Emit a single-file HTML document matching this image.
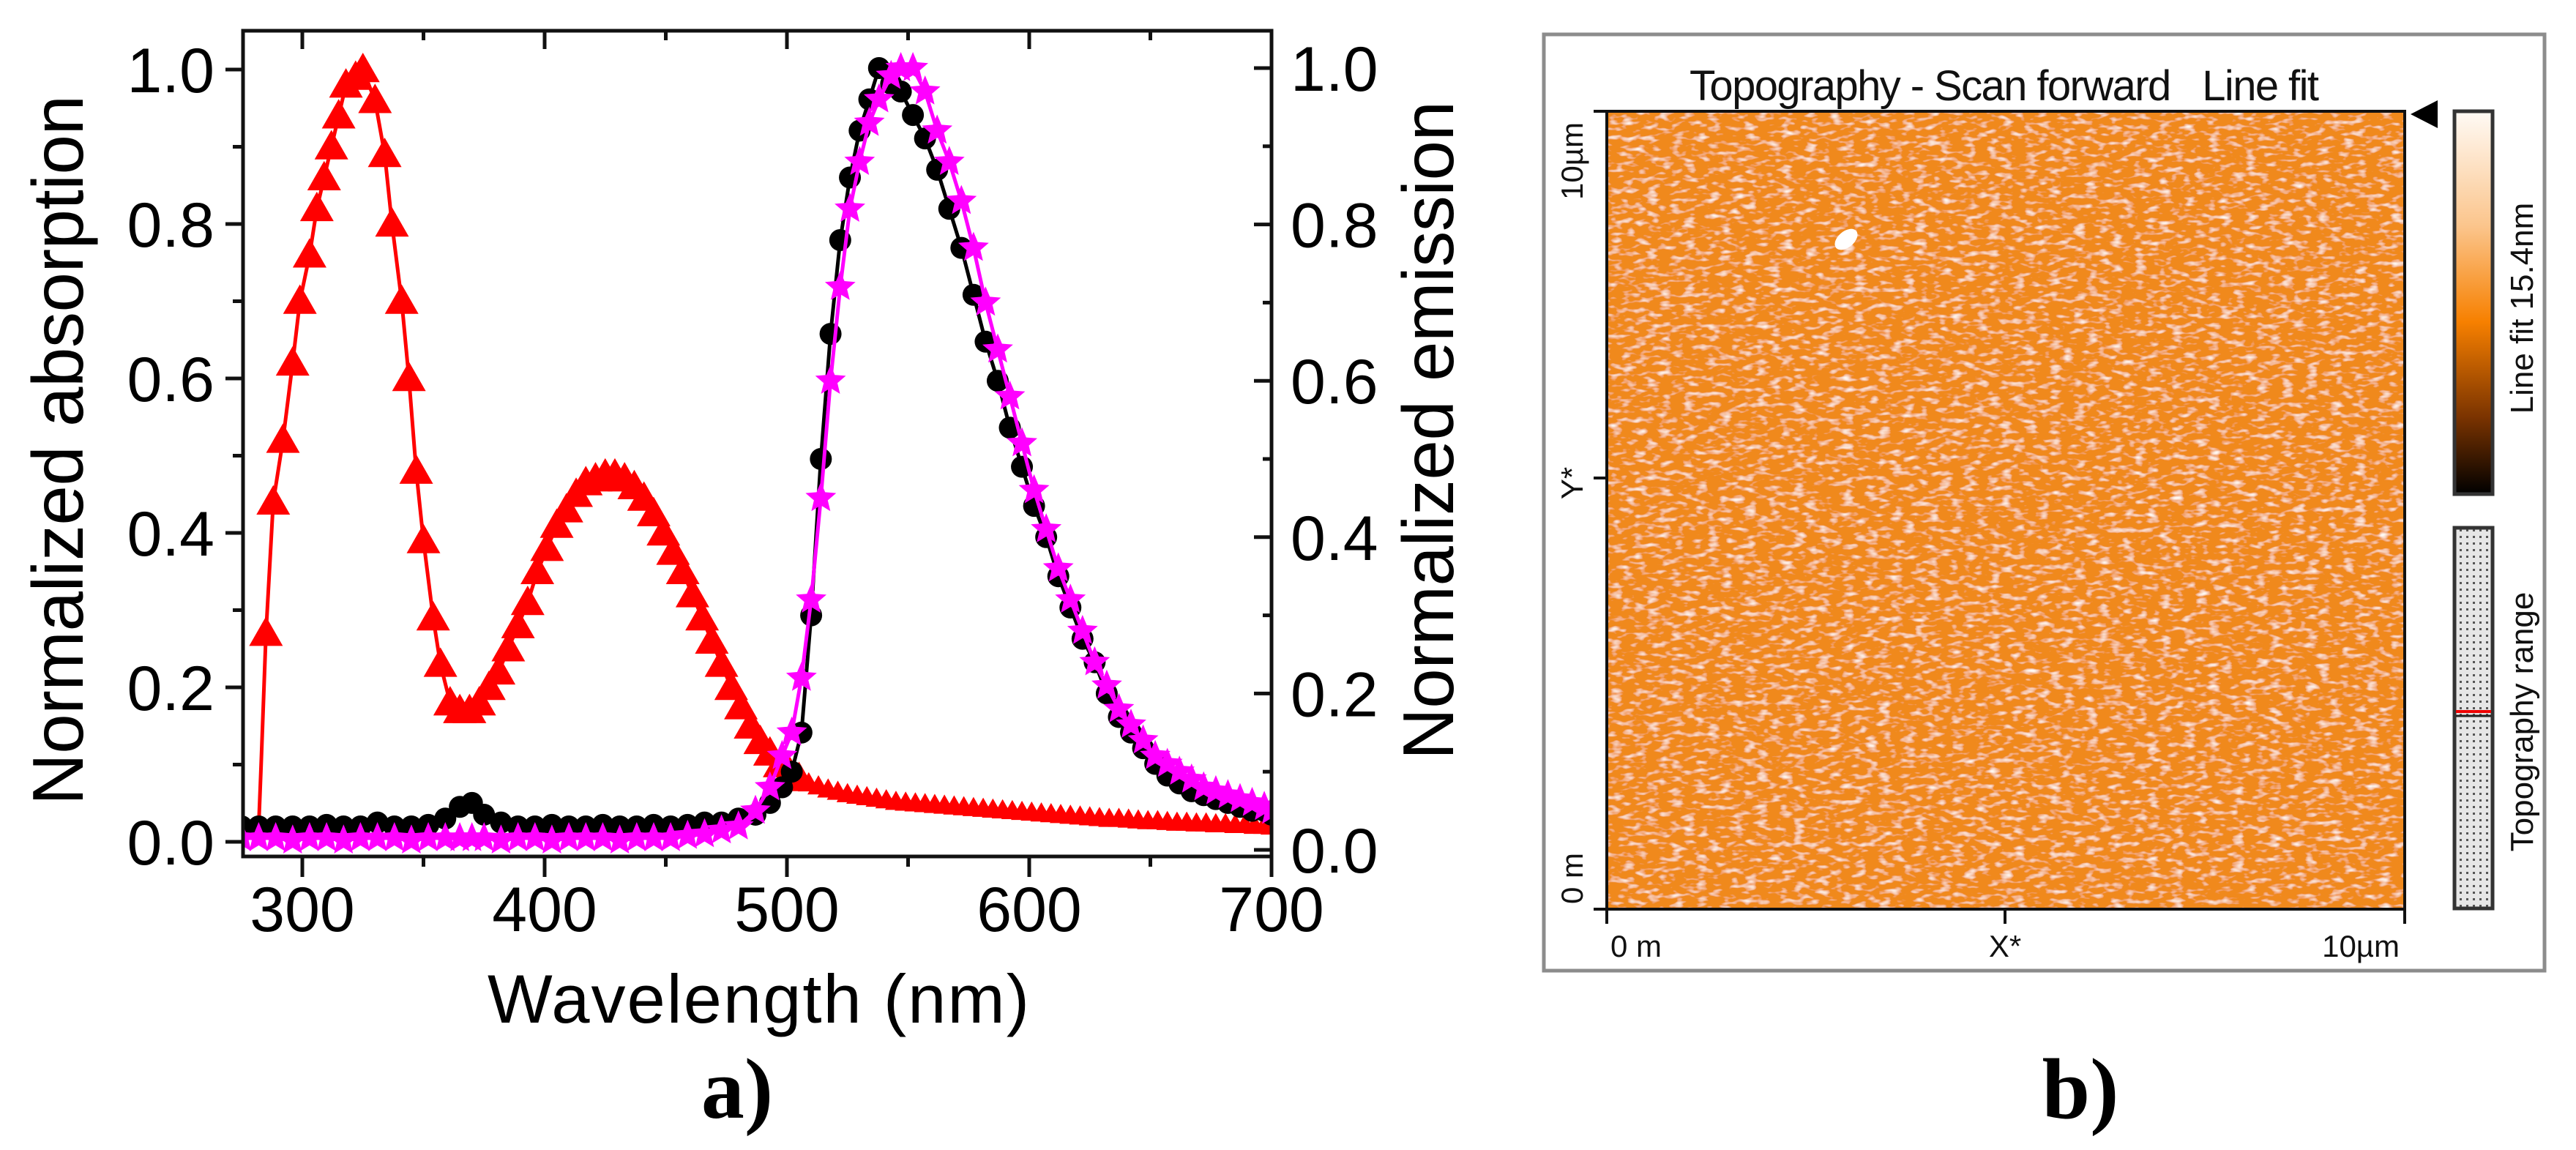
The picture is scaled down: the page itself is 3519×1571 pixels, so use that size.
<!DOCTYPE html>
<html><head><meta charset="utf-8"><style>
html,body{margin:0;padding:0;background:#fff;}
svg{display:block;}
text{font-family:"Liberation Sans",sans-serif;}
</style></head><body>
<svg id="fig" width="3519" height="1571" viewBox="0 0 3519 1571" xmlns="http://www.w3.org/2000/svg">
<defs>
  <filter id="afm" x="0" y="0" width="100%" height="100%">
    <feTurbulence type="fractalNoise" baseFrequency="0.06 0.14" numOctaves="2" seed="4" result="n"/>
    <feColorMatrix in="n" type="matrix" values="0 0 0 0 1  0 0 0 0 0.97  0 0 0 0 0.92  2.6 0 0 0 -1.35" result="w"/>
    <feComposite in="w" in2="SourceGraphic" operator="over"/>
  </filter>
  <linearGradient id="cbar" x1="0" y1="0" x2="0" y2="1">
    <stop offset="0" stop-color="#fffaf5"/>
    <stop offset="0.3" stop-color="#fbc58c"/>
    <stop offset="0.55" stop-color="#f78000"/>
    <stop offset="0.8" stop-color="#7a3300"/>
    <stop offset="1" stop-color="#000"/>
  </linearGradient>
  <pattern id="dots" width="9" height="9" patternUnits="userSpaceOnUse">
    <rect width="9" height="9" fill="#e6e6e6"/><rect x="3" y="3" width="3" height="3" fill="#555"/>
  </pattern>
</defs>
<g id="panelA"></g>
<g id="panelB">
  <rect x="2109" y="47" width="1367" height="1279" fill="#fff" stroke="#8c8c8c" stroke-width="5"/>
  <text x="2738" y="137" font-size="58" text-anchor="middle" fill="#111" textLength="860">Topography - Scan forward&#160;&#160;&#160;Line fit</text>
  <rect x="2195" y="152" width="1090" height="1090" fill="#f0891c"/>
  <rect x="2195" y="152" width="1090" height="1090" fill="#f0891c" filter="url(#afm)"/>
  <ellipse cx="2522" cy="327" rx="18" ry="11" transform="rotate(-40 2522 327)" fill="#fff"/>
  <path d="M2195 152 L2195 1242 L3285 1242 L3285 152 Z" fill="none" stroke="#111" stroke-width="4"/>
  <path d="M2177 152H2195 M2177 653H2195 M2177 1242H2195 M2195 1242V1262 M2739 1242V1262 M3285 1242V1262" stroke="#111" stroke-width="4"/>
  <text x="2200" y="1307" font-size="42" fill="#111">0 m</text>
  <text x="2739" y="1307" font-size="42" fill="#111" text-anchor="middle">X*</text>
  <text x="3278" y="1307" font-size="42" fill="#111" text-anchor="end">10µm</text>
  <text transform="translate(2162 220) rotate(-90)" font-size="42" fill="#111" text-anchor="middle">10µm</text>
  <text transform="translate(2162 660) rotate(-90)" font-size="42" fill="#111" text-anchor="middle">Y*</text>
  <text transform="translate(2162 1200) rotate(-90)" font-size="42" fill="#111" text-anchor="middle">0 m</text>
  <path d="M3293 156 L3330 137 L3330 175 Z" fill="#000"/>
  <rect x="3353" y="152" width="52" height="523" fill="url(#cbar)" stroke="#333" stroke-width="5"/>
  <text transform="translate(3460 421) rotate(-90)" font-size="44" fill="#111" text-anchor="middle">Line fit 15.4nm</text>
  <rect x="3353" y="721" width="52" height="520" fill="url(#dots)" stroke="#333" stroke-width="5"/>
  <path d="M3355 972H3403" stroke="#e00" stroke-width="4"/>
  <path d="M3355 978H3403" stroke="#222" stroke-width="3"/>
  <text transform="translate(3460 986) rotate(-90)" font-size="44" fill="#111" text-anchor="middle">Topography range</text>
</g>
<text x="1007" y="1527" style="font-family:'Liberation Serif',serif;font-weight:bold" font-size="118" text-anchor="middle" fill="#000">a)</text>
<text x="2842" y="1527" style="font-family:'Liberation Serif',serif;font-weight:bold" font-size="118" text-anchor="middle" fill="#000">b)</text>
<script>
const absWl=[282,283,285,288,292,296,299,303,306,309,312,315,318,322,325,330,334,337,341,344,347,350,354,357,361,365,369,373,377,381,385,389,393,397,401,405,409,413,417,421,425,429,433,437,441,445,449,453,457,461,465,469,473,477,481,485,489,493,497,501,505,509,513,517,521,525,529,533,537,541,545,549,553,557,561,565,569,573,577,581,585,589,593,597,601,605,609,613,617,621,625,629,633,637,641,645,649,653,657,661,665,669,673,677,681,685,689,693,697,700];
const absVal=[0.02,0.10,0.27,0.44,0.52,0.62,0.70,0.76,0.82,0.86,0.90,0.94,0.98,0.99,1.0,0.96,0.89,0.80,0.70,0.60,0.48,0.39,0.29,0.23,0.18,0.17,0.17,0.18,0.20,0.22,0.25,0.28,0.31,0.35,0.38,0.41,0.43,0.45,0.465,0.47,0.475,0.475,0.47,0.46,0.445,0.425,0.40,0.375,0.35,0.32,0.29,0.26,0.23,0.20,0.175,0.15,0.13,0.115,0.10,0.09,0.082,0.076,0.072,0.068,0.065,0.062,0.06,0.058,0.056,0.054,0.052,0.051,0.05,0.049,0.048,0.047,0.046,0.045,0.044,0.043,0.042,0.041,0.04,0.039,0.038,0.037,0.036,0.035,0.034,0.033,0.032,0.031,0.03,0.03,0.029,0.028,0.027,0.027,0.026,0.025,0.025,0.024,0.024,0.023,0.023,0.022,0.022,0.021,0.021,0.02];
const emWl=[275,282,289,296,303,310,317,324,331,338,345,352,359,365,370,375,382,389,396,403,410,417,424,431,438,445,452,459,466,473,480,487,493,498,502,506,510,514,518,522,526,530,534,538,543,547,552,557,562,567,572,577,582,587,592,597,602,607,612,617,622,627,632,637,642,647,652,657,662,667,672,677,682,687,692,697,700];
const emBlack=[0.03,0.03,0.03,0.03,0.03,0.032,0.03,0.03,0.035,0.03,0.03,0.032,0.04,0.055,0.06,0.045,0.035,0.03,0.03,0.032,0.03,0.03,0.032,0.03,0.03,0.032,0.03,0.032,0.035,0.035,0.04,0.045,0.06,0.08,0.10,0.15,0.30,0.50,0.66,0.78,0.86,0.92,0.96,1.0,0.98,0.97,0.94,0.91,0.87,0.82,0.77,0.71,0.65,0.60,0.54,0.49,0.44,0.40,0.35,0.31,0.27,0.24,0.20,0.17,0.15,0.13,0.11,0.095,0.085,0.075,0.07,0.065,0.06,0.055,0.05,0.05,0.045];
const emPink=[0.015,0.015,0.015,0.012,0.015,0.015,0.012,0.015,0.015,0.015,0.012,0.015,0.015,0.015,0.015,0.015,0.012,0.015,0.015,0.012,0.015,0.015,0.015,0.012,0.015,0.015,0.015,0.018,0.02,0.025,0.03,0.05,0.08,0.12,0.15,0.22,0.32,0.45,0.60,0.72,0.82,0.88,0.93,0.96,0.99,1.0,1.0,0.97,0.92,0.88,0.83,0.77,0.70,0.64,0.58,0.52,0.46,0.41,0.36,0.32,0.28,0.24,0.21,0.18,0.16,0.14,0.12,0.11,0.10,0.09,0.08,0.075,0.07,0.065,0.06,0.055,0.05];
const xTicks=[300,400,500,600,700];
const yTicks=[0,0.2,0.4,0.6,0.8,1.0];
const yTickLabels=["0.0","0.2","0.4","0.6","0.8","1.0"];

const NS="http://www.w3.org/2000/svg";
const g=document.getElementById('panelA');
const X=w=>413+(w-300)*3.31;
const YL=v=>1150-v*1055;
const YR=v=>1161-v*1068;
function mk(tag,attrs,parent){const e=document.createElementNS(NS,tag);for(const k in attrs)e.setAttribute(k,attrs[k]);(parent||g).appendChild(e);return e;}

const clip=mk('clipPath',{id:'plotclip'});
mk('rect',{x:332,y:42,width:1405,height:1128},clip);

// red absorption
const redG=mk('g',{'clip-path':'url(#plotclip)'});


const redLine=mk('polyline',{points:absWl.map((w,i)=>X(w)+','+YL(absVal[i])).join(' '),fill:'none',stroke:'#ff0000','stroke-width':5},redG);


absWl.forEach((w,i)=>{if(i<2)return;const x=X(w),y=YL(absVal[i]);
  const s=w>505?15:23;
  const t=mk('path',{d:`M${x} ${y-s}L${x+s} ${y+s*0.75}L${x-s} ${y+s*0.75}Z`,fill:'#ff0000'},redG);
  
  });

// black emission
const bG=mk('g',{'clip-path':'url(#plotclip)'});


const bLine=mk('polyline',{points:emWl.map((w,i)=>X(w)+','+YR(emBlack[i])).join(' '),fill:'none',stroke:'#000','stroke-width':5},bG);


emWl.forEach((w,i)=>{const c=mk('circle',{cx:X(w),cy:YR(emBlack[i]),r:15,fill:'#000'},bG);
  
  });

// magenta emission
const pG=mk('g',{'clip-path':'url(#plotclip)'});


const pLine=mk('polyline',{points:emWl.map((w,i)=>X(w)+','+YR(emPink[i])).join(' '),fill:'none',stroke:'#ff00ff','stroke-width':5},pG);


function star(cx,cy,R){let d='';for(let k=0;k<10;k++){const r=k%2?R*0.45:R;const a=-Math.PI/2+k*Math.PI/5;d+=(k?'L':'M')+(cx+r*Math.cos(a)).toFixed(1)+' '+(cy+r*Math.sin(a)).toFixed(1);}return d+'Z';}
emWl.forEach((w,i)=>{const s=mk('path',{d:star(X(w),YR(emPink[i]),22),fill:'#ff00ff'},pG);
  
  });

// frame
const fr=mk('rect',{x:332,y:42,width:1405,height:1128,fill:'none',stroke:'#111','stroke-width':5});



// x ticks
for(let w=300;w<=700;w+=50){const major=w%100===0;const x=X(w);
  const t1=mk('line',{x1:x,y1:1170,x2:x,y2:major?1198:1184,stroke:'#111','stroke-width':5});
  
  
  const t2=mk('line',{x1:x,y1:42,x2:x,y2:major?67:55,stroke:'#111','stroke-width':5});
  
  }
xTicks.forEach(w=>{const t=mk('text',{x:X(w),y:1272,'font-size':86,'text-anchor':'middle',fill:'#000'});t.textContent=w;
  
  });
// y ticks
for(let k=0;k<=10;k++){const v=k/10;const major=k%2===0;
  const a=mk('line',{x1:major?308:318,y1:YL(v),x2:332,y2:YL(v),stroke:'#111','stroke-width':5});
  
  
  const b=mk('line',{x1:1737,y1:YR(v),x2:major?1713:1725,y2:YR(v),stroke:'#111','stroke-width':5});
  
  }
yTicks.forEach((v,i)=>{
  const t=mk('text',{x:293,y:YL(v)+31,'font-size':86,'text-anchor':'end',fill:'#000'});t.textContent=yTickLabels[i];
  
  
  const r=mk('text',{x:1763,y:YR(v)+31,'font-size':86,'text-anchor':'start',fill:'#000'});r.textContent=yTickLabels[i];
  
  });
// titles
const xt=mk('text',{x:1036,y:1397,'font-size':94,'text-anchor':'middle',fill:'#000',textLength:740});xt.textContent='Wavelength (nm)';


const yt=mk('text',{transform:'translate(113 615) rotate(-90)','font-size':98,'text-anchor':'middle',fill:'#000',textLength:970});yt.textContent='Normalized absorption';


const yr=mk('text',{transform:'translate(1985 588) rotate(-90)','font-size':98,'text-anchor':'middle',fill:'#000',textLength:900});yr.textContent='Normalized emission';


</script>
</svg>
</body></html>
